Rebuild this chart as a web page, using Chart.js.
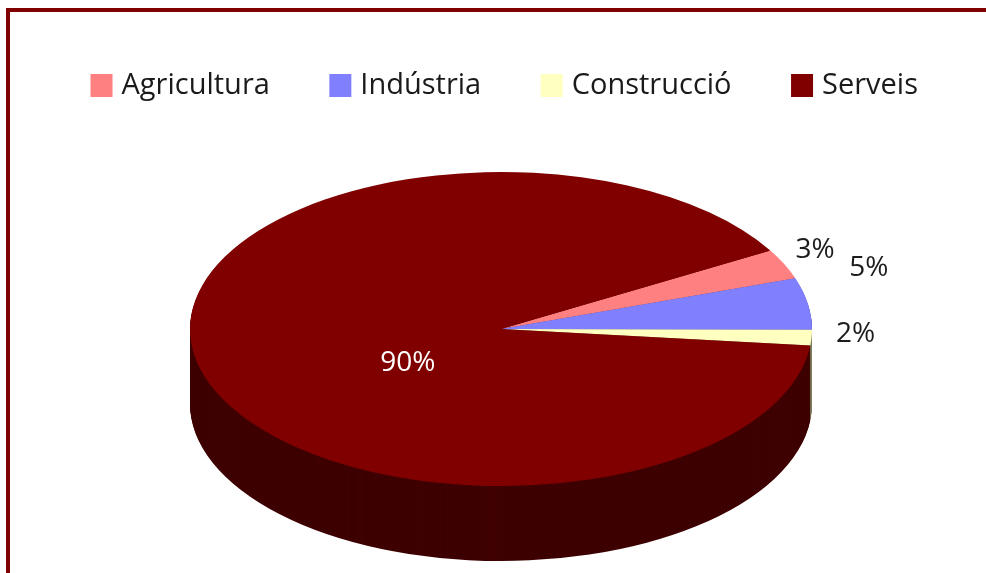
<!DOCTYPE html>
<html>
<head>
<meta charset="utf-8">
<style>
  html, body { margin: 0; padding: 0; background: #fff; overflow: hidden; }
  #wrap { position: relative; width: 986px; height: 573px; }
  #frame { position: absolute; left: 6px; top: 8px; width: 986px; height: 573px; border-left: 4px solid #800000; border-top: 4px solid #800000; box-sizing: border-box; }
  canvas { position: absolute; left: 0; top: 0; }
</style>
</head>
<body>
<div id="wrap">
  <div id="frame"></div>
  <canvas id="pieChart" width="986" height="573"></canvas>
</div>
<script src="https://cdn.jsdelivr.net/npm/chart.js@4"></script>
<script>
const categories = ['Agricultura', 'Indústria', 'Construcció', 'Serveis'];
const shares = [3.1, 5.3, 1.6, 90];
const sliceColors = ['#FF8080', '#8080FF', '#FFFFC0', '#800000'];
const sideColors = ['#804040', '#404080', '#808060', '#3E0000'];
const labelColors = ['#1c1c1c', '#1c1c1c', '#1c1c1c', '#ffffff'];

// label shift from the rim point of each slice
const labelShift = [[31, -14], [61, -36], [44, -4], [211, 1]];

const SQUASH = 157 / 311;
const DEPTH = 75;

const pie3d = {
    id: 'pie3d',
    afterLayout(chart) {
        // legend sits a little right of the pie centre
        chart.legend.left += 12;
    },
    beforeDatasetsDraw(chart) {
        const ctx = chart.ctx;
        const arcs = chart.getDatasetMeta(0).data;
        const cy = arcs[0].y;
        ctx.save();
        // side wall first, one shifted copy per pixel of depth
        for (let d = DEPTH; d > 0; d--) {
            arcs.forEach((arc, i) => {
                ctx.save();
                ctx.translate(0, cy + d);
                ctx.scale(1, SQUASH);
                ctx.beginPath();
                ctx.moveTo(arc.x, 0);
                ctx.arc(arc.x, 0, arc.outerRadius, arc.startAngle, arc.endAngle);
                ctx.closePath();
                ctx.fillStyle = sideColors[i];
                ctx.fill();
                ctx.restore();
            });
        }
        // top face is drawn by the library under this transform
        ctx.translate(0, cy);
        ctx.scale(1, SQUASH);
        ctx.translate(0, -cy);
    },
    afterDatasetsDraw(chart) {
        const ctx = chart.ctx;
        ctx.restore();
        const arcs = chart.getDatasetMeta(0).data;
        ctx.save();
        ctx.font = '28px "Open Sans"';
        ctx.textAlign = 'center';
        ctx.textBaseline = 'middle';
        arcs.forEach((arc, i) => {
            const mid = (arc.startAngle + arc.endAngle) / 2;
            const x = arc.x + arc.outerRadius * Math.cos(mid) + labelShift[i][0];
            const y = arc.y + arc.outerRadius * SQUASH * Math.sin(mid) + labelShift[i][1];
            ctx.fillStyle = labelColors[i];
            ctx.fillText(Math.round(shares[i]) + '%', x, y);
        });
        ctx.restore();
    }
};

new Chart(document.getElementById('pieChart').getContext('2d'), {
    type: 'pie',
    data: {
        labels: categories,
        datasets: [{
            data: shares,
            backgroundColor: sliceColors,
            borderWidth: 0,
            clip: false
        }]
    },
    options: {
        responsive: false,
        animation: false,
        radius: 311,
        rotation: 60,
        layout: { padding: { top: 6, left: 16, right: 0, bottom: 25 } },
        plugins: {
            legend: {
                position: 'top',
                labels: {
                    // small box plus thick border: keeps the text close to the swatch
                    boxWidth: 11,
                    boxHeight: 12,
                    padding: 65,
                    color: '#1a1a1a',
                    font: { family: '"Open Sans"', size: 29 },
                    generateLabels(chart) {
                        const items = Chart.overrides.doughnut.plugins.legend.labels.generateLabels(chart);
                        items.forEach(item => {
                            item.strokeStyle = item.fillStyle;
                            item.lineWidth = 11;
                        });
                        return items;
                    }
                }
            },
            tooltip: { enabled: false }
        }
    },
    plugins: [pie3d]
});
</script>
</body>
</html>
